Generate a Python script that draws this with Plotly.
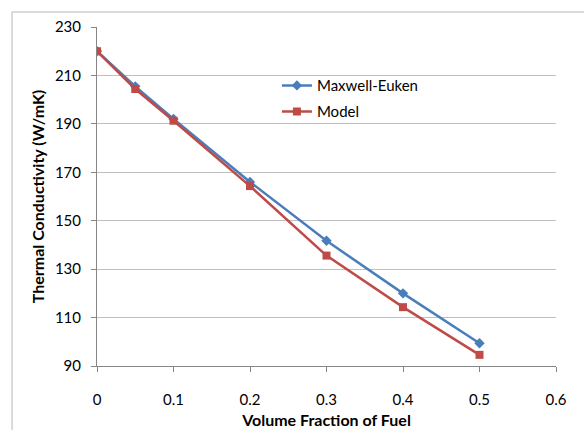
import plotly.graph_objects as go

# Volume fraction of fuel and thermal conductivity (W/mK)
volume_fraction = [0, 0.05, 0.1, 0.2, 0.3, 0.4, 0.5]
maxwell_euken = [220, 205.5, 192, 166, 141.7, 120, 99.4]
model = [220, 204.4, 191.3, 164.3, 135.6, 114.3, 94.6]

x_ticks = [0, 0.1, 0.2, 0.3, 0.4, 0.5, 0.6]
y_ticks = [90, 110, 130, 150, 170, 190, 210, 230]

BLUE = "#4A7EBB"
RED = "#BE4B48"
FONT = "Lato"

fig = go.Figure()
fig.add_trace(go.Scatter(
    x=volume_fraction, y=maxwell_euken, name="Maxwell-Euken",
    mode="lines+markers",
    line=dict(color=BLUE, width=2.5),
    marker=dict(symbol="diamond", size=8, color=BLUE),
    legend="legend",
))
fig.add_trace(go.Scatter(
    x=volume_fraction, y=model, name="Model",
    mode="lines+markers",
    line=dict(color=RED, width=2.5),
    marker=dict(symbol="square", size=8, color=RED),
    legend="legend2",
))

axis_common = dict(
    showline=True, linecolor="#868686", linewidth=1,
    ticks="outside", tickcolor="#868686", ticklen=5,
    tickfont=dict(family=FONT, size=15, color="#000000"),
    zeroline=False, automargin=False,
)

legend_common = dict(
    xanchor="left", yanchor="middle", bgcolor="rgba(0,0,0,0)",
    font=dict(family=FONT, size=15, color="#000000"), itemwidth=30,
)

fig.update_layout(
    width=584, height=430,
    margin=dict(l=97, r=28, t=27, b=64),
    paper_bgcolor="white", plot_bgcolor="white",
    xaxis=dict(
        range=[0, 0.6], tickvals=x_ticks, ticktext=[f"{v:g}" for v in x_ticks],
        showgrid=False, ticklabelstandoff=15,
        title=dict(text="<b>Volume Fraction of Fuel</b>",
                   font=dict(family=FONT, size=16, color="#000000"), standoff=7),
        **axis_common,
    ),
    yaxis=dict(
        range=[90, 230], tickvals=y_ticks,
        showgrid=True, gridcolor="#BFBFBF", gridwidth=1, ticklabelstandoff=7,
        title=dict(text="<b>Thermal Conductivity (W/mK)</b>",
                   font=dict(family=FONT, size=16, color="#000000"), standoff=6),
        **axis_common,
    ),
    legend=dict(x=0.392, y=0.827, **legend_common),
    legend2=dict(x=0.392, y=0.750, **legend_common),
    showlegend=True,
    shapes=[dict(type="rect", xref="paper", yref="paper",
                 x0=-0.185, y0=-0.23, x1=1.1, y1=1.044,
                 line=dict(color="#D0D0D0", width=1.5), layer="below")],
)

fig.write_html("out.html")
